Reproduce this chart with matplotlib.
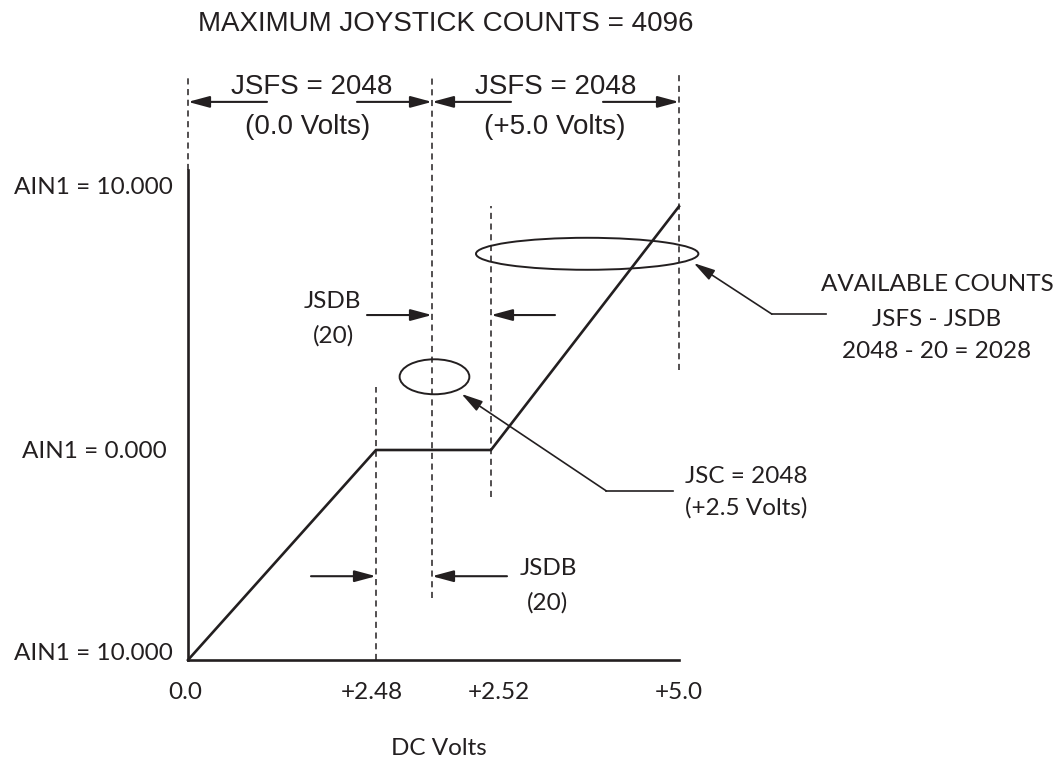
"""Joystick deadband diagram"""

import numpy as np
import matplotlib
matplotlib.use("Agg")
import matplotlib.pyplot as plt
from matplotlib.patches import Ellipse
from matplotlib.transforms import ScaledTranslation

# transfer curve: joystick volts -> AIN1
volts = [0.0, 2.48, 2.52, 5.0]
ain1 = [-10.0, 0.0, 0.0, 8.7]
center_v = 2.5

x_ticks = [0.0, 2.48, 2.52, 5.0]
x_labels = ["0.0", "+2.48", "+2.52", "+5.0"]
y_ticks = [-10.0, 0.0, 10.0]
y_labels = ["AIN1 = 10.000", "AIN1 = 0.000", "AIN1 = 10.000"]

max_counts = 4096
jsfs = 2048
jsdb = 20
jsc = 2048

INK = "#231f20"
HELV = ["Liberation Sans", "DejaVu Sans"]
NARROW = ["Lato", "DejaVu Sans"]
NSIZE = 17.5

W, H = 1060, 761
fig = plt.figure(figsize=(W / 100, H / 100), dpi=100)
ax = fig.add_axes([188 / W, 1 - 660 / H, 491 / W, 490 / H])

# deadband is drawn exaggerated -> piecewise scales
xv_bp, xd_bp = [0, 2.48, 2.5, 2.52, 5.0], [0, 188, 244, 303, 491]
yv_bp, yd_bp = [-10, 0, 10], [0, 210, 490]
ax.set_xscale("function", functions=(lambda v: np.interp(v, xv_bp, xd_bp),
                                     lambda d: np.interp(d, xd_bp, xv_bp)))
ax.set_yscale("function", functions=(lambda v: np.interp(v, yv_bp, yd_bp),
                                     lambda d: np.interp(d, yd_bp, yv_bp)))
ax.set_xlim(0, 5.0)
ax.set_ylim(-10, 10)

ax.plot(volts, ain1, color=INK, lw=1.9, clip_on=False, solid_joinstyle="miter")

for s in ["top", "right"]:
    ax.spines[s].set_visible(False)
for s in ["left", "bottom"]:
    ax.spines[s].set_linewidth(1.9)
    ax.spines[s].set_color(INK)

ax.set_xticks(x_ticks, x_labels)
ax.set_yticks(y_ticks, y_labels)
ax.tick_params(length=0, colors=INK, labelsize=NSIZE)
ax.tick_params(axis="x", pad=16)
ax.tick_params(axis="y", pad=11)
for lab in ax.get_xticklabels() + ax.get_yticklabels():
    lab.set_family(NARROW)
# nudge labels like the original drawing
for lab, (dx, dy) in zip(ax.get_yticklabels(), [(0, 9), (-6, 0), (0, -15)]):
    lab.set_transform(lab.get_transform() + ScaledTranslation(dx / 100, dy / 100, fig.dpi_scale_trans))
for lab, dx in zip(ax.get_xticklabels(), [-3, -4, 8, 0]):
    lab.set_transform(lab.get_transform() + ScaledTranslation(dx / 100, 0, fig.dpi_scale_trans))

# vertical dashed guides (x in volts, y in axes fraction)
xt = ax.get_xaxis_transform()
guides = [(0.0, 1.0, 1.194), (center_v, 0.127, 1.194), (5.0, 0.592, 1.194),
          (2.48, 0.0, 0.557), (2.52, 0.333, 0.927)]
for xv, y0, y1 in guides:
    ax.plot([xv, xv], [y0, y1], transform=xt, color=INK, lw=1.1,
            ls=(0, (4, 3)), clip_on=False)

arrow_kw = dict(arrowstyle="-|>,head_length=1.3,head_width=0.35", mutation_scale=10,
                color=INK, lw=1.5, shrinkA=0, shrinkB=0)


def dim_arrow(xv, yf, dx):
    ax.annotate("", xy=(xv, yf), xycoords=xt, xytext=(dx, 0),
                textcoords="offset pixels", arrowprops=arrow_kw, annotation_clip=False)


# JSFS span arrows
for xv, dx in [(0.0, 79), (center_v, -75), (center_v, 79), (5.0, -76)]:
    dim_arrow(xv, 1.139, dx)
# JSDB arrows
for xv, dx in [(center_v, -65), (2.52, 64)]:
    dim_arrow(xv, 0.704, dx)
for xv, dx in [(2.48, -65), (center_v, 75)]:
    dim_arrow(xv, 0.171, dx)

# ellipses
ax.add_patch(Ellipse((0.813, 0.829), 0.453, 0.0653, transform=ax.transAxes,
                     fill=False, ec=INK, lw=1.4, clip_on=False))
ax.add_patch(Ellipse((0.502, 0.578), 0.142, 0.0714, transform=ax.transAxes,
                     fill=False, ec=INK, lw=1.4, clip_on=False))

# leader lines
leader_kw = dict(arrow_kw, lw=1.2)
for head, elbow, end in [((1.030, 0.810), (1.189, 0.706), (1.299, 0.706)),
                         ((0.557, 0.543), (0.852, 0.345), (0.988, 0.345))]:
    ax.annotate("", xy=head, xycoords="axes fraction", xytext=elbow,
                textcoords="axes fraction", arrowprops=leader_kw, annotation_clip=False)
    ax.plot([elbow[0], end[0]], [elbow[1], end[1]], transform=ax.transAxes,
            color=INK, lw=1.2, clip_on=False)


def label(x, y, s, fam, size=NSIZE):
    fig.text(x / W, 1 - y / H, s, ha="center", va="baseline", family=fam,
             fontsize=size, color=INK)


label(446, 31, f"MAXIMUM JOYSTICK COUNTS = {max_counts}", HELV, 20)
label(312, 94, f"JSFS = {jsfs}", HELV, 20)
label(556, 94, f"JSFS = {jsfs}", HELV, 20)
label(308, 134, "(0.0 Volts)", HELV, 20)
label(555, 134, "(+5.0 Volts)", HELV, 20)

label(332, 308, "JSDB", NARROW)
label(333, 343, f"({jsdb})", NARROW)
label(548, 575, "JSDB", NARROW)
label(548, 610, f"({jsdb})", NARROW)

label(937, 291, "AVAILABLE COUNTS", NARROW)
label(937, 326, "JSFS - JSDB", NARROW)
label(937, 358, f"{jsfs} - {jsdb} = {jsfs - jsdb}", NARROW)

label(746, 483, f"JSC = {jsc}", NARROW)
label(746, 515, f"(+{center_v} Volts)", NARROW)

label(439, 755, "DC Volts", NARROW)

fig.savefig("out.png", dpi=100)
